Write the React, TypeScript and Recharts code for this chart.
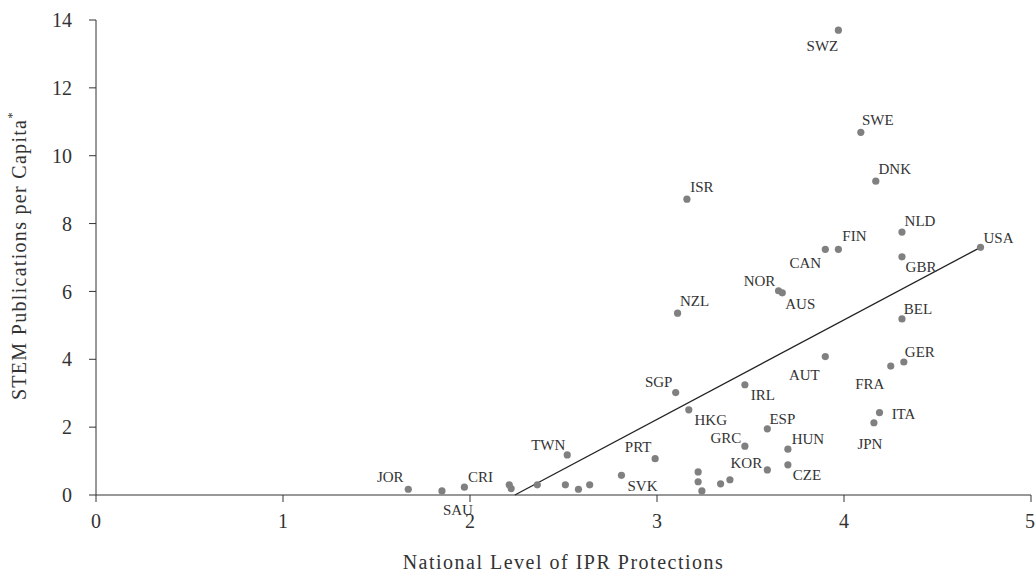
import React from 'react';
import { ScatterChart, Scatter, XAxis, YAxis, ReferenceLine, Label } from 'recharts';

// country codes, IPR protection level (x) and STEM publications per capita (y)
const codes = [
  'SWZ', 'SWE', 'DNK', 'ISR', 'NLD', 'CAN', 'FIN', 'USA', 'GBR', 'NOR', 'AUS', 'NZL', 'BEL', 'GER',
  'AUT', 'FRA', 'SGP', 'IRL', 'HKG', 'ITA', 'JPN', 'ESP', 'GRC', 'HUN', 'PRT', 'CZE', 'KOR', 'SVK',
  'TWN', 'JOR', 'SAU', 'CRI', '', '', '', '', '', '', '', '', '', '', '',
];
const ipr = [
  3.97, 4.09, 4.17, 3.16, 4.31, 3.9, 3.97, 4.73, 4.31, 3.65, 3.67, 3.11, 4.31, 4.32,
  3.9, 4.25, 3.1, 3.47, 3.17, 4.19, 4.16, 3.59, 3.47, 3.7, 2.99, 3.7, 3.59, 2.81,
  2.52, 1.67, 1.85, 1.97, 2.21, 2.22, 2.36, 2.51, 2.58, 2.64, 3.22, 3.22, 3.24, 3.34, 3.39,
];
const stem = [
  13.7, 10.69, 9.25, 8.72, 7.75, 7.24, 7.24, 7.3, 7.02, 6.02, 5.96, 5.36, 5.19, 3.92,
  4.08, 3.8, 3.02, 3.25, 2.51, 2.43, 2.13, 1.95, 1.44, 1.35, 1.07, 0.89, 0.74, 0.58,
  1.18, 0.17, 0.12, 0.23, 0.3, 0.19, 0.3, 0.3, 0.17, 0.3, 0.68, 0.39, 0.12, 0.33, 0.45,
];

// fitted line end points
const trendX = [2.24, 4.73];
const trendY = [0, 7.3];

const xTicks = [0, 1, 2, 3, 4, 5];
const yTicks = [0, 2, 4, 6, 8, 10, 12, 14];

// where each label sits relative to its dot (px)
const labelOffsets: Record<string, [number, number]> = {
  SWZ: [-16, 16], SWE: [17, -12], DNK: [19, -12], ISR: [15, -12], NLD: [18, -11],
  CAN: [-20, 14], FIN: [16, -13], USA: [18, -9], GBR: [19, 10], NOR: [-19, -10],
  AUS: [18, 11], NZL: [17, -12], BEL: [16, -10], GER: [16, -10], AUT: [-21, 18],
  FRA: [-21, 18], SGP: [-17, -11], IRL: [18, 10], HKG: [22, 10], ITA: [24, 1],
  JPN: [-4, 21], ESP: [15, -10], GRC: [-19, -8], HUN: [20, -10], PRT: [-17, -12],
  CZE: [19, 10], KOR: [-21, -7], SVK: [21, 11], TWN: [-19, -10], JOR: [-18, -12],
  SAU: [16, 19], CRI: [16, -10],
};

const points = codes.map((code, i) => ({ code, x: ipr[i], y: stem[i] }));

const font = '"Liberation Serif", "DejaVu Serif", serif';
const ink = '#333333';

function Dot(props: any) {
  const { cx, cy, payload } = props;
  const off = labelOffsets[payload.code];
  return (
    <g>
      <circle cx={cx} cy={cy} r={3.6} fill="#808080" />
      {off && (
        <text
          x={cx + off[0]}
          y={cy + off[1]}
          textAnchor="middle"
          dominantBaseline="central"
          fontFamily={font}
          fontSize={15}
          fill={ink}
        >
          {payload.code}
        </text>
      )}
    </g>
  );
}

function YTitle(props: any) {
  const { viewBox } = props;
  const cx = 19;
  const cy = viewBox.y + viewBox.height / 2 - 2;
  return (
    <text
      transform={`translate(${cx},${cy}) rotate(-90)`}
      textAnchor="middle"
      dominantBaseline="central"
      fontFamily={font}
      fontSize={20}
      letterSpacing={1.3}
      fill={ink}
    >
      STEM Publications per Capita
      <tspan dy={-8} fontSize={13}>*</tspan>
    </text>
  );
}

function XTitle(props: any) {
  const { viewBox } = props;
  return (
    <text
      x={viewBox.x + viewBox.width / 2}
      y={562}
      textAnchor="middle"
      dominantBaseline="central"
      fontFamily={font}
      fontSize={20}
      letterSpacing={1.5}
      fill={ink}
    >
      National Level of IPR Protections
    </text>
  );
}

export default function App() {
  return (
    <div style={{ position: 'absolute', left: 0, top: 0, background: '#fff' }}>
      <ScatterChart width={1035} height={573} margin={{ top: 20, right: 4, bottom: 0, left: 0 }}>
        <XAxis
          type="number"
          dataKey="x"
          domain={[0, 5]}
          ticks={xTicks}
          height={78}
          tickSize={7}
          tickMargin={12}
          stroke={ink}
          tick={{ fontFamily: font, fontSize: 20, fill: ink }}
          allowDataOverflow
        >
          <Label content={<XTitle />} />
        </XAxis>
        <YAxis
          type="number"
          dataKey="y"
          domain={[0, 14]}
          ticks={yTicks}
          width={96}
          tickSize={7}
          tickMargin={17}
          stroke={ink}
          tick={{ fontFamily: font, fontSize: 20, fill: ink }}
        >
          <Label content={<YTitle />} />
        </YAxis>
        <ReferenceLine
          segment={[
            { x: trendX[0], y: trendY[0] },
            { x: trendX[1], y: trendY[1] },
          ]}
          stroke="#222"
          strokeWidth={1.3}
        />
        <Scatter data={points} shape={<Dot />} isAnimationActive={false} />
      </ScatterChart>
    </div>
  );
}
